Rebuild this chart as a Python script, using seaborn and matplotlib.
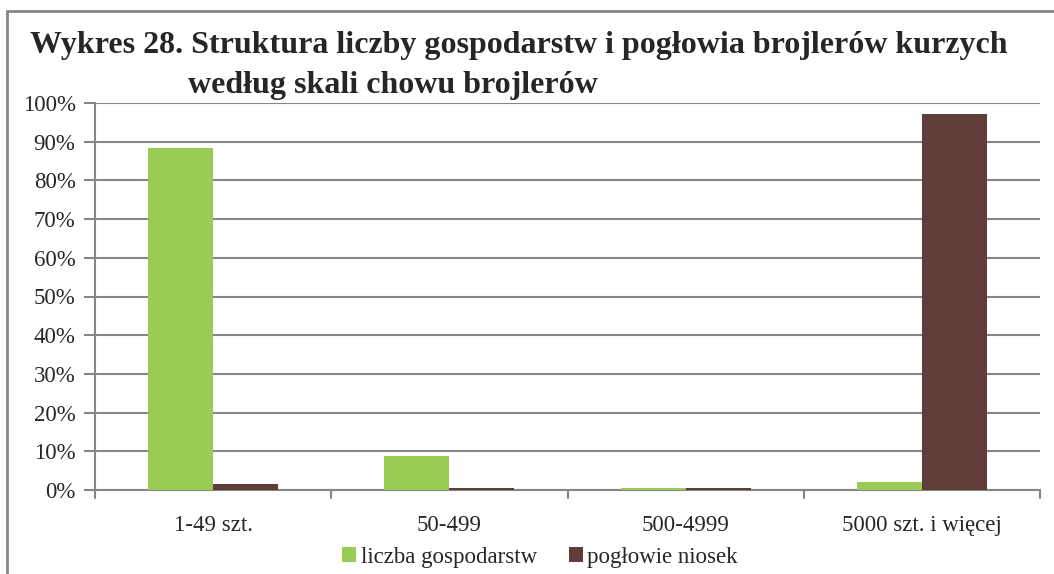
import matplotlib.pyplot as plt
import pandas as pd
import seaborn as sns

# Values (share in %)
categories = ['1-49 szt.', '50-499', '500-4999', '5000 szt. i więcej']
liczba_gospodarstw = [88.4, 8.8, 0.6, 2.1]
poglowie_niosek = [1.6, 0.5, 0.6, 97.2]
series_names = ['liczba gospodarstw', 'pogłowie niosek']
colors = ['#99CC55', '#603D38']
y_ticks = list(range(0, 101, 10))

df = pd.DataFrame({
    'kategoria': categories * 2,
    'seria': [series_names[0]] * 4 + [series_names[1]] * 4,
    'udzial': liczba_gospodarstw + poglowie_niosek,
})

sns.set_style('white')
plt.rcParams['font.family'] = ['Liberation Serif', 'DejaVu Serif']

fig = plt.figure(figsize=(10.54, 5.74), dpi=100)
ax = fig.add_axes([95 / 1054, 1 - 490 / 574, (1040 - 95) / 1054, (490 - 103) / 574])

sns.barplot(data=df, x='kategoria', y='udzial', hue='seria', palette=colors,
            width=0.55, saturation=1, linewidth=0, ax=ax, zorder=3)

grid_col = '#868686'
ax.set_ylim(0, 100)
ax.set_xlim(-0.5, 3.5)
ax.set_yticks(y_ticks)
ax.set_yticklabels([f'{t}%' for t in y_ticks], fontsize=16.5)
ax.yaxis.grid(True, color=grid_col, linewidth=1.5, zorder=0)
ax.tick_params(axis='y', length=8, width=1.5, color=grid_col, pad=6, left=True)
ax.set_xticks(range(len(categories)))
ax.set_xticklabels(categories, fontsize=16.5)
ax.tick_params(axis='x', length=0, pad=18)
for b in [-0.5, 0.5, 1.5, 2.5, 3.5]:
    ax.plot([b, b], [0, -0.02], transform=ax.get_xaxis_transform(), color=grid_col,
            linewidth=1.5, clip_on=False)
ax.set_xlabel('')
ax.set_ylabel('')
for s in ['top', 'right']:
    ax.spines[s].set_visible(False)
for s in ['left', 'bottom']:
    ax.spines[s].set_color(grid_col)
    ax.spines[s].set_linewidth(1.5)
    ax.spines[s].set_zorder(2)

leg = ax.legend(loc='center', bbox_to_anchor=(0.471, -67 / 387), ncol=2, frameon=False,
                fontsize=16.5, handlelength=0.6, handleheight=0.6, handletextpad=0.2,
                columnspacing=1.4)

fig.text(30 / 1054, 1 - 45 / 574, 'Wykres 28. Struktura liczby gospodarstw i pogłowia brojlerów kurzych',
         fontsize=23, fontweight='bold', va='center', ha='left')
fig.text(188 / 1054, 1 - 85 / 574, 'według skali chowu brojlerów',
         fontsize=23, fontweight='bold', va='center', ha='left')

# outer frame (top and left edges visible)
fig.add_artist(plt.Line2D([7 / 1054, 1], [1 - 11 / 574, 1 - 11 / 574], transform=fig.transFigure,
                          color='#888888', linewidth=2))
fig.add_artist(plt.Line2D([7 / 1054, 7 / 1054], [0, 1 - 11 / 574], transform=fig.transFigure,
                          color='#888888', linewidth=2))

plt.savefig('out.png', dpi=100)
